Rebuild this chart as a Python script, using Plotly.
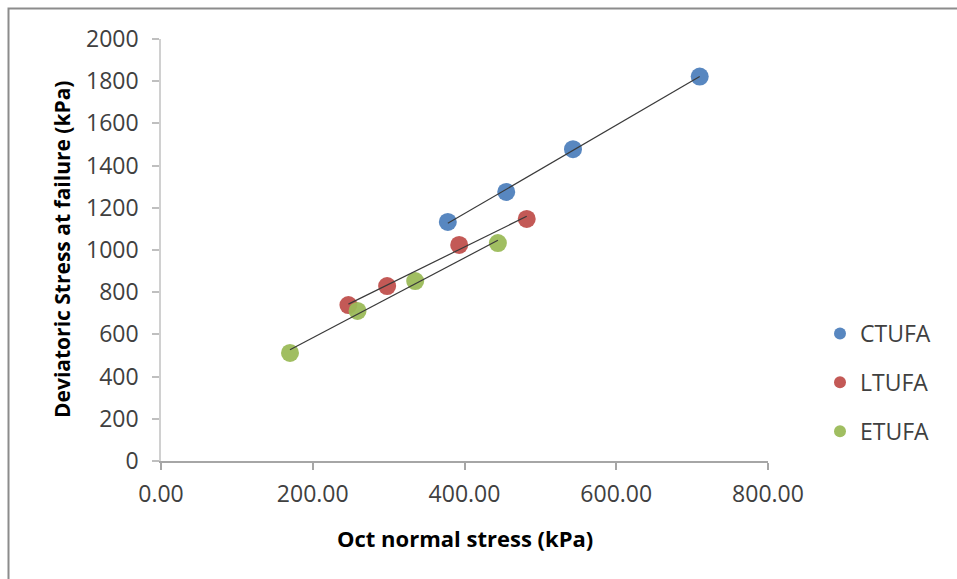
import numpy as np
import plotly.graph_objects as go

# Octahedral normal stress (kPa) and deviatoric stress at failure (kPa)
ctufa_x = [378, 455, 543, 710]
ctufa_y = [1133, 1275, 1478, 1822]
ltufa_x = [247, 298, 393, 482]
ltufa_y = [739, 829, 1024, 1147]
etufa_x = [170, 259, 335, 444]
etufa_y = [512, 711, 853, 1033]

series_names = ["CTUFA", "LTUFA", "ETUFA"]
series_colors = ["#4F81BD", "#C0504D", "#9BBB59"]
x_ticks = [0, 200, 400, 600, 800]
x_tick_text = ["0.00", "200.00", "400.00", "600.00", "800.00"]
y_ticks = [0, 200, 400, 600, 800, 1000, 1200, 1400, 1600, 1800, 2000]

W, H = 957, 579
ML, MR, MT, MB = 161, 189, 39, 118
PW, PH = W - ML - MR, H - MT - MB


def px_x(p):
    return (p - ML) / PW


def px_y(p):
    return (H - MB - p) / PH


FONT = "Open Sans"
fig = go.Figure()

data = [(ctufa_x, ctufa_y), (ltufa_x, ltufa_y), (etufa_x, etufa_y)]
for (xs, ys), name, col in zip(data, series_names, series_colors):
    fig.add_trace(go.Scatter(
        x=xs, y=ys, mode="markers", name=name, legendgroup=name,
        marker=dict(size=18, color=col, opacity=0.95),
    ))

# Linear trend lines for each series
for (xs, ys), name in zip(data, series_names):
    slope, icpt = np.polyfit(xs, ys, 1)
    lx = np.array([min(xs), max(xs)])
    fig.add_trace(go.Scatter(
        x=lx, y=slope * lx + icpt, mode="lines", showlegend=False,
        line=dict(color="#3a3a3a", width=1.2), hoverinfo="skip",
    ))

fig.update_layout(
    width=W, height=H,
    margin=dict(l=ML, r=MR, t=MT, b=MB, autoexpand=False),
    paper_bgcolor="white", plot_bgcolor="white",
    font=dict(family=FONT, size=23, color="#404040"),
    showlegend=True,
    legend=dict(
        x=px_x(820), y=px_y(312), xanchor="left", yanchor="top",
        font=dict(family=FONT, size=23, color="#404040"),
        tracegroupgap=16, itemsizing="constant",
        bgcolor="rgba(0,0,0,0)",
    ),
    xaxis=dict(
        range=[0, 800], tickvals=x_ticks, ticktext=x_tick_text,
        showgrid=False, zeroline=False, showline=True,
        linecolor="#A6A6A6", linewidth=1.5,
        ticks="outside", ticklen=7, tickcolor="#A6A6A6", tickwidth=1.5,
        ticklabelstandoff=5,
        tickfont=dict(family=FONT, size=23, color="#404040"),
    ),
    yaxis=dict(
        range=[0, 2000], tickvals=y_ticks,
        showgrid=False, zeroline=False, showline=True,
        linecolor="#D0D0D0", linewidth=1.5,
        ticks="outside", ticklen=7, tickcolor="#BFBFBF", tickwidth=1.5,
        ticklabelstandoff=9,
        tickfont=dict(family=FONT, size=23, color="#404040"),
    ),
    annotations=[
        dict(text="<b>Oct normal stress (kPa)</b>", xref="paper", yref="paper",
             x=0.5, y=px_y(538), xanchor="center", yanchor="middle",
             showarrow=False, font=dict(family=FONT, size=22, color="black")),
        dict(text="<b>Deviatoric Stress at failure (kPa)</b>", xref="paper", yref="paper",
             x=px_x(62), y=0.5, xanchor="center", yanchor="middle", textangle=-90,
             showarrow=False, font=dict(family=FONT, size=21, color="black")),
    ],
    shapes=[
        dict(type="rect", xref="paper", yref="paper",
             x0=px_x(8.5), x1=px_x(990), y0=px_y(600), y1=px_y(8.5),
             line=dict(color="#8C8C8C", width=2), fillcolor="rgba(0,0,0,0)",
             layer="below"),
    ],
)

fig.write_html("out.html")
